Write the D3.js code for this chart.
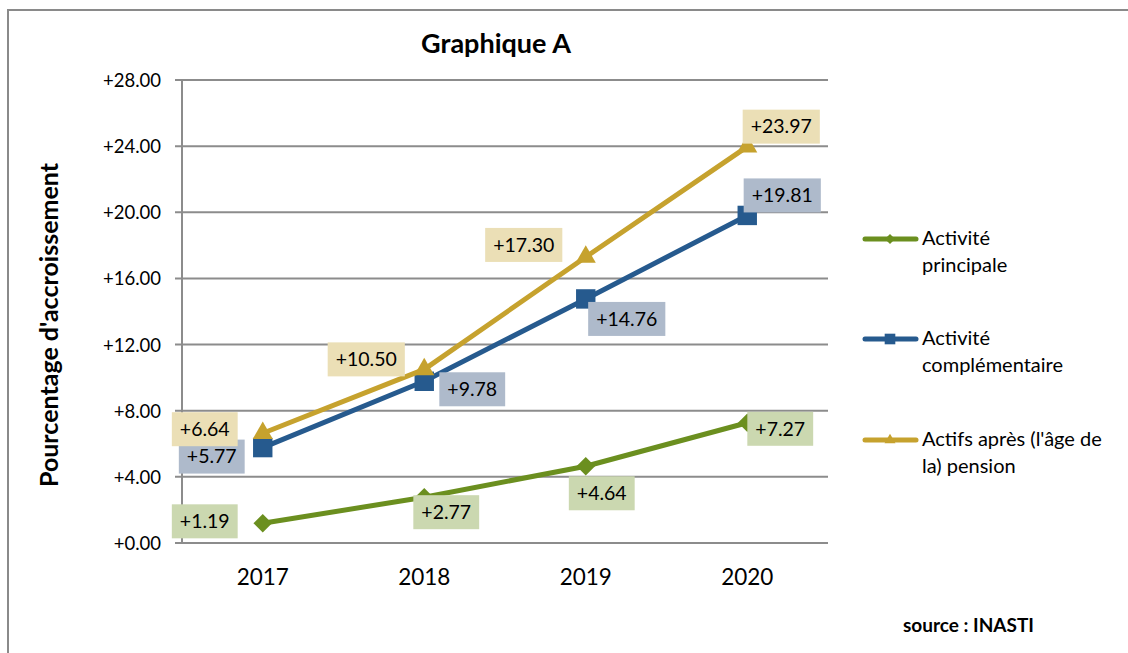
<!DOCTYPE html>
<html>
<head>
<meta charset="utf-8">
<script src="https://cdn.jsdelivr.net/npm/d3@7"></script>
<style>
  html, body { margin: 0; padding: 0; background: #fff; }
  svg { display: block; font-family: Lato, "Open Sans", sans-serif; }
</style>
</head>
<body>
<svg id="chart" width="1128" height="653"></svg>
<script>
// ---- data ----
const title = "Graphique A";
const yTitle = "Pourcentage d'accroissement";
const sourceText = "source : INASTI";
const categories = ["2017", "2018", "2019", "2020"];
const seriesNames = ["Activité principale", "Activité complémentaire", "Actifs après (l'âge de la) pension"];
const legendLines = [["Activité", "principale"], ["Activité", "complémentaire"], ["Actifs après (l'âge de", "la) pension"]];
const principale = [1.19, 2.77, 4.64, 7.27];
const complementaire = [5.77, 9.78, 14.76, 19.81];
const pension = [6.64, 10.50, 17.30, 23.97];
const yTicks = [0, 4, 8, 12, 16, 20, 24, 28];

// ---- layout / style (not data) ----
const colors = ["#6b8f1f", "#265a8e", "#c6a22e"];
const labelBg = ["#cbd8b0", "#aebacb", "#ebdfb6"];
const markers = [d3.symbolDiamond2, d3.symbolSquare2, d3.symbolTriangle2];
const markerSize = [220, 480, 290];
// label centre offsets from the point, per series per category
const labelOffsets = [
  [[-58, -2], [22, 15], [16, 27], [33, 6]],
  [[-51, 9], [48, 8], [41, 20], [35, -20]],
  [[-58, -4], [-58, -10], [-62, -12], [34, -20]]
];
const allSeries = [principale, complementaire, pension];

const svg = d3.select("#chart");

// outer border
svg.append("path")
  .attr("d", "M8,660 L8,10 L1140,10")
  .attr("fill", "none").attr("stroke", "#8a8a8a").attr("stroke-width", 2);

const x = d3.scaleBand().domain(categories).range([182, 828]);
const y = d3.scaleLinear().domain([0, 28]).range([543, 80]);
const cx = c => x(c) + x.bandwidth() / 2;

// gridlines
svg.append("g").selectAll("line").data(yTicks).join("line")
  .attr("x1", 175).attr("x2", 828)
  .attr("y1", d => y(d)).attr("y2", d => y(d))
  .attr("stroke", "#8c8c8c").attr("stroke-width", 2);

// y axis line
svg.append("line").attr("x1", 182).attr("x2", 182)
  .attr("y1", y(28)).attr("y2", y(0))
  .attr("stroke", "#8c8c8c").attr("stroke-width", 2);

// y tick labels
const yAxis = d3.axisLeft(y).tickValues(yTicks).tickSize(0).tickPadding(0)
  .tickFormat(d => "+" + d.toFixed(2));
const yg = svg.append("g").attr("transform", "translate(161,0)").call(yAxis);
yg.select(".domain").remove();
yg.selectAll("text").attr("font-size", 18.5).attr("font-family", "Lato").attr("fill", "#000").attr("dy", "0.35em");

// x labels
const xAxis = d3.axisBottom(x).tickSize(0).tickPadding(0);
const xg = svg.append("g").attr("transform", "translate(0,577)").call(xAxis);
xg.select(".domain").remove();
xg.selectAll("text").attr("font-size", 22.5).attr("font-family", "Lato").attr("fill", "#000").attr("dy", "0.35em");

// title
svg.append("text").attr("x", 496).attr("y", 53).attr("text-anchor", "middle")
  .attr("font-size", 27).attr("font-weight", "bold").attr("fill", "#000").text(title);

// y title
svg.append("text").attr("transform", "translate(58,325) rotate(-90)")
  .attr("text-anchor", "middle").attr("font-size", 25).attr("font-weight", "bold")
  .attr("fill", "#000").text(yTitle);

// series lines + markers
const line = d3.line().x((d, i) => cx(categories[i])).y(d => y(d));
allSeries.forEach((vals, s) => {
  svg.append("path").datum(vals).attr("d", line)
    .attr("fill", "none").attr("stroke", colors[s]).attr("stroke-width", 5)
    .attr("stroke-linejoin", "round");
  svg.append("g").selectAll("path").data(vals).join("path")
    .attr("transform", (d, i) => `translate(${cx(categories[i])},${y(d)})`)
    .attr("d", d3.symbol(markers[s], markerSize[s]))
    .attr("fill", colors[s]);
});

// data labels
allSeries.forEach((vals, s) => {
  vals.forEach((v, i) => {
    const px = cx(categories[i]) + labelOffsets[s][i][0];
    const py = y(v) + labelOffsets[s][i][1];
    const g = svg.append("g");
    const rect = g.append("rect").attr("fill", labelBg[s]);
    const t = g.append("text").attr("x", px).attr("y", py).attr("dy", "0.35em")
      .attr("text-anchor", "middle").attr("font-size", 19.5).attr("fill", "#000")
      .text("+" + v.toFixed(2));
    const bb = t.node().getBBox();
    rect.attr("x", px - bb.width / 2 - 8).attr("y", py - 17)
      .attr("width", bb.width + 16).attr("height", 34);
  });
});

// legend
const legY = [239, 339, 440];
seriesNames.forEach((name, s) => {
  const g = svg.append("g");
  g.append("line").attr("x1", 865).attr("x2", 916).attr("y1", legY[s]).attr("y2", legY[s])
    .attr("stroke", colors[s]).attr("stroke-width", 5).attr("stroke-linecap", "round");
  g.append("path").attr("transform", `translate(890,${legY[s]})`)
    .attr("d", d3.symbol(markers[s], markerSize[s] * 0.3)).attr("fill", colors[s]);
  const t = g.append("text").attr("x", 922).attr("y", legY[s] + 6)
    .attr("font-size", 20).attr("fill", "#000");
  legendLines[s].forEach((ln, k) => {
    t.append("tspan").attr("x", 922).attr("dy", k === 0 ? 0 : 27).text(ln);
  });
});

// source
svg.append("text").attr("x", 903).attr("y", 632).attr("font-size", 19)
  .attr("font-weight", "bold").attr("fill", "#000").text(sourceText);
</script>
</body>
</html>
